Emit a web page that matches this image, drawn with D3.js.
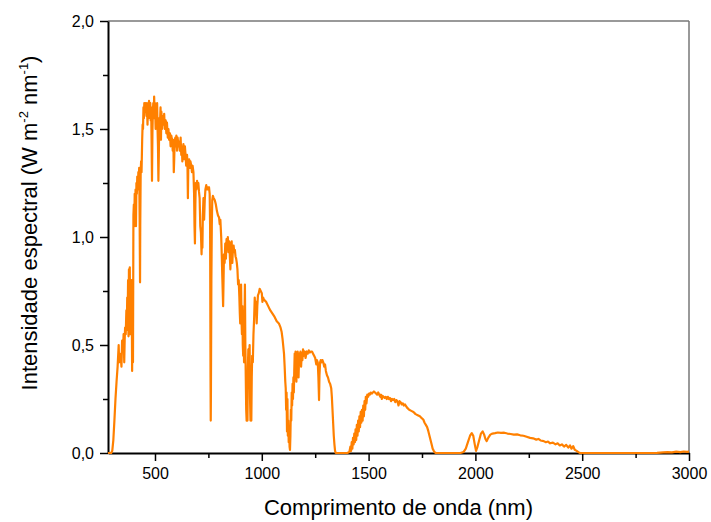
<!DOCTYPE html>
<html>
<head>
<meta charset="utf-8">
<script src="https://cdn.jsdelivr.net/npm/d3@7"></script>
<style>
  body { margin: 0; background: #fff; }
  text { font-family: Arial, "Liberation Sans", sans-serif; fill: #000; }
</style>
</head>
<body>
<div class="chart"></div>
<script>
var svgWidth = 711;
var svgHeight = 522;

var margin = { top: 21, right: 22, bottom: 69, left: 108 };

var width = svgWidth - margin.left - margin.right;
var height = svgHeight - margin.top - margin.bottom;

// spectrum (nm, W m-2 nm-1)
var wavelengths = [280, 290, 295, 300, 305, 310, 315, 320, 325, 330, 332, 335, 340, 343, 346, 350, 353, 356, 358, 360,
  363, 366, 368, 370, 372, 374, 376, 378, 380, 382, 384, 386, 388, 390, 392, 393, 395, 397, 399, 401,
  403, 405, 407, 409, 411, 413, 415, 417, 420, 422, 424, 426, 428, 430, 431, 433, 435, 437, 440, 442,
  444, 446, 448, 450, 452, 455, 458, 460, 462, 465, 467, 470, 472, 475, 478, 480, 482, 484, 486, 488,
  490, 492, 494, 496, 498, 500, 503, 505, 508, 510, 512, 514, 516, 518, 520, 523, 526, 528, 530, 533,
  536, 540, 543, 546, 550, 553, 556, 560, 563, 566, 570, 573, 576, 580, 583, 586, 588, 590, 592, 595,
  598, 600, 603, 606, 610, 613, 616, 620, 623, 626, 628, 630, 633, 636, 640, 643, 646, 650, 652, 654,
  656, 660, 663, 666, 670, 673, 676, 680, 683, 685, 687, 689, 691, 694, 697, 700, 703, 706, 709, 712,
  715, 718, 720, 722, 724, 727, 730, 733, 736, 740, 743, 746, 750, 753, 756, 758, 760, 761, 762, 764,
  766, 768, 771, 775, 780, 785, 790, 795, 800, 803, 806, 810, 813, 815, 817, 819, 821, 823, 826, 829,
  832, 835, 838, 841, 844, 847, 850, 853, 856, 859, 862, 865, 868, 871, 874, 877, 880, 883, 886, 889,
  892, 895, 897, 899, 901, 903, 905, 907, 909, 911, 913, 915, 917, 919, 921, 923, 925, 927, 929, 931,
  933, 935, 937, 939, 941, 943, 945, 947, 949, 951, 953, 955, 958, 961, 964, 967, 970, 973, 976, 979,
  982, 986, 990, 995, 1000, 1003, 1006, 1010, 1020, 1030, 1040, 1050, 1060, 1070, 1080, 1088, 1093, 1097, 1100, 1104,
  1107, 1110, 1112, 1114, 1116, 1118, 1120, 1122, 1124, 1126, 1128, 1130, 1132, 1134, 1136, 1138, 1140, 1142, 1144, 1146,
  1148, 1150, 1152, 1154, 1156, 1158, 1160, 1162, 1164, 1166, 1168, 1170, 1172, 1175, 1178, 1181, 1184, 1187, 1190, 1193,
  1196, 1200, 1205, 1210, 1215, 1220, 1225, 1230, 1235, 1240, 1245, 1250, 1255, 1258, 1262, 1265, 1268, 1270, 1273, 1276,
  1280, 1284, 1288, 1292, 1296, 1300, 1305, 1310, 1315, 1320, 1325, 1328, 1331, 1334, 1337, 1340, 1343, 1346, 1360, 1380,
  1400, 1410, 1415, 1418, 1421, 1424, 1427, 1430, 1433, 1436, 1439, 1442, 1445, 1448, 1451, 1454, 1457, 1460, 1463, 1466,
  1469, 1472, 1475, 1478, 1481, 1484, 1487, 1490, 1494, 1498, 1502, 1506, 1510, 1515, 1520, 1525, 1530, 1535, 1540, 1545,
  1550, 1555, 1558, 1562, 1565, 1570, 1575, 1580, 1585, 1590, 1595, 1600, 1605, 1610, 1615, 1620, 1625, 1630, 1635, 1640,
  1645, 1650, 1655, 1660, 1665, 1670, 1680, 1690, 1700, 1710, 1720, 1730, 1740, 1750, 1756, 1762, 1768, 1774, 1780, 1785,
  1790, 1795, 1800, 1805, 1810, 1815, 1900, 1930, 1945, 1955, 1965, 1975, 1983, 1990, 1997, 2003, 2010, 2018, 2026, 2034,
  2041, 2047, 2053, 2060, 2070, 2080, 2092, 2105, 2120, 2135, 2150, 2165, 2180, 2195, 2210, 2225, 2240, 2256, 2270, 2285,
  2295, 2305, 2320, 2330, 2340, 2350, 2363, 2375, 2385, 2395, 2405, 2415, 2425, 2435, 2443, 2450, 2458, 2465, 2474, 2482,
  2490, 2600, 2700, 2800, 2850, 2880, 2900, 2920, 2940, 2960, 2975, 2990, 3000];

var intensities = [0, 0, 0, 0.01, 0.06, 0.15, 0.25, 0.33, 0.40, 0.50, 0.42, 0.46, 0.44, 0.40, 0.52, 0.47, 0.55, 0.42, 0.52, 0.58,
  0.55, 0.66, 0.57, 0.72, 0.62, 0.80, 0.54, 0.85, 0.70, 0.86, 0.55, 0.70, 0.60, 0.80, 0.55, 0.38, 0.75, 0.42, 1.10, 1.15,
  1.05, 1.20, 1.12, 1.22, 1.05, 1.25, 1.20, 1.28, 1.22, 1.30, 1.27, 1.32, 1.10, 0.79, 1.05, 1.30, 1.35, 1.30, 1.45, 1.52,
  1.50, 1.60, 1.55, 1.62, 1.58, 1.62, 1.60, 1.56, 1.62, 1.52, 1.60, 1.55, 1.63, 1.58, 1.62, 1.54, 1.60, 1.45, 1.26, 1.48,
  1.58, 1.62, 1.55, 1.65, 1.58, 1.62, 1.50, 1.60, 1.55, 1.62, 1.50, 1.42, 1.26, 1.38, 1.55, 1.52, 1.60, 1.45, 1.58, 1.50,
  1.56, 1.52, 1.57, 1.50, 1.54, 1.48, 1.53, 1.46, 1.50, 1.45, 1.48, 1.42, 1.47, 1.45, 1.40, 1.45, 1.30, 1.36, 1.44, 1.46,
  1.42, 1.47, 1.40, 1.46, 1.42, 1.44, 1.40, 1.46, 1.38, 1.42, 1.35, 1.40, 1.43, 1.36, 1.42, 1.38, 1.33, 1.38, 1.34, 1.18,
  1.33, 1.36, 1.32, 1.35, 1.33, 1.30, 1.33, 1.30, 1.20, 1.05, 0.97, 1.15, 1.25, 1.22, 1.26, 1.24, 1.25, 1.21, 1.18, 1.05,
  1.02, 0.92, 1.00, 0.95, 1.10, 1.18, 1.08, 1.17, 1.22, 1.24, 1.22, 1.23, 1.22, 1.23, 1.20, 1.05, 0.35, 0.15, 0.30, 0.80,
  1.05, 1.17, 1.19, 1.18, 1.17, 1.15, 1.12, 1.10, 1.09, 1.06, 1.08, 1.00, 0.90, 0.82, 0.75, 0.68, 0.80, 0.92, 0.88, 0.97,
  0.90, 0.99, 0.95, 1.00, 0.93, 0.98, 0.92, 0.85, 0.97, 0.98, 0.88, 0.95, 0.96, 0.93, 0.94, 0.91, 0.90, 0.88, 0.85, 0.78,
  0.80, 0.72, 0.65, 0.60, 0.70, 0.78, 0.62, 0.55, 0.68, 0.50, 0.45, 0.55, 0.42, 0.60, 0.78, 0.50, 0.35, 0.20, 0.15, 0.35,
  0.15, 0.40, 0.48, 0.30, 0.45, 0.50, 0.25, 0.15, 0.38, 0.15, 0.35, 0.45, 0.42, 0.55, 0.62, 0.72, 0.66, 0.70, 0.60, 0.68,
  0.73, 0.74, 0.76, 0.75, 0.74, 0.70, 0.72, 0.71, 0.70, 0.68, 0.66, 0.645, 0.63, 0.61, 0.60, 0.58, 0.56, 0.53, 0.50, 0.46,
  0.40, 0.33, 0.30, 0.20, 0.28, 0.10, 0.25, 0.08, 0.15, 0.05, 0.12, 0.03, 0.014, 0.08, 0.20, 0.15, 0.28, 0.22, 0.32, 0.25,
  0.35, 0.28, 0.38, 0.46, 0.40, 0.47, 0.38, 0.33, 0.45, 0.36, 0.47, 0.40, 0.35, 0.46, 0.42, 0.47, 0.40, 0.46, 0.43, 0.48,
  0.45, 0.47, 0.44, 0.47, 0.46, 0.475, 0.465, 0.47, 0.47, 0.46, 0.45, 0.44, 0.41, 0.43, 0.42, 0.35, 0.245, 0.36, 0.42, 0.43,
  0.42, 0.43, 0.42, 0.40, 0.41, 0.38, 0.36, 0.35, 0.33, 0.32, 0.30, 0.26, 0.20, 0.14, 0.08, 0.04, 0.01, 0, 0, 0,
  0, 0.005, 0.03, 0.01, 0.05, 0.02, 0.07, 0.04, 0.09, 0.05, 0.11, 0.06, 0.13, 0.08, 0.15, 0.10, 0.17, 0.12, 0.19, 0.14,
  0.20, 0.15, 0.22, 0.17, 0.24, 0.20, 0.26, 0.23, 0.27, 0.26, 0.275, 0.27, 0.28, 0.275, 0.28, 0.285, 0.28, 0.275, 0.27, 0.28,
  0.27, 0.26, 0.27, 0.25, 0.265, 0.26, 0.255, 0.26, 0.25, 0.26, 0.25, 0.255, 0.24, 0.25, 0.245, 0.25, 0.235, 0.245, 0.24, 0.22,
  0.24, 0.235, 0.225, 0.23, 0.22, 0.225, 0.21, 0.20, 0.195, 0.19, 0.18, 0.175, 0.17, 0.16, 0.155, 0.14, 0.13, 0.12, 0.10, 0.08,
  0.06, 0.04, 0.02, 0.01, 0.003, 0, 0, 0, 0.005, 0.02, 0.05, 0.08, 0.092, 0.08, 0.04, 0.01, 0.03, 0.06, 0.09, 0.10,
  0.085, 0.065, 0.055, 0.07, 0.085, 0.09, 0.092, 0.095, 0.093, 0.094, 0.09, 0.088, 0.085, 0.086, 0.082, 0.08, 0.075, 0.07, 0.068, 0.062,
  0.065, 0.058, 0.055, 0.05, 0.053, 0.045, 0.048, 0.04, 0.045, 0.035, 0.04, 0.03, 0.038, 0.025, 0.035, 0.02, 0.032, 0.015, 0.01, 0.004,
  0, 0, 0, 0, 0.001, 0.003, 0.004, 0.003, 0.006, 0.004, 0.007, 0.005, 0.006];

var xTicks = [500, 1000, 1500, 2000, 2500, 3000];
var yTicks = [0, 0.5, 1.0, 1.5, 2.0];

var spectrum = wavelengths.map(function(w, i) {
  return { nm: w, val: intensities[i] };
});

var svg = d3.select(".chart")
  .append("svg")
    .attr("width", svgWidth)
    .attr("height", svgHeight)
  .append("g")
    .attr("transform", "translate(" + margin.left + "," + margin.top + ")");

var xLinearScale = d3.scaleLinear().domain([280, 3000]).range([0, width]);
var yLinearScale = d3.scaleLinear().domain([0, 2]).range([height, 0]);

var comma = function(d) { return d3.format(".1f")(d).replace(".", ","); };

// frame: gray top/right
svg.append("line")
  .attr("x1", 0).attr("x2", width).attr("y1", 0).attr("y2", 0)
  .attr("stroke", "#777").attr("stroke-width", 1.5);
svg.append("line")
  .attr("x1", width).attr("x2", width).attr("y1", 0).attr("y2", height)
  .attr("stroke", "#777").attr("stroke-width", 1.5);

// minor ticks
var xMinor = svg.append("g")
  .attr("transform", "translate(0," + height + ")")
  .call(d3.axisBottom(xLinearScale).tickValues([750, 1250, 1750, 2250, 2750]).tickSize(5).tickFormat(""));
var yMinor = svg.append("g")
  .call(d3.axisLeft(yLinearScale).tickValues([0.25, 0.75, 1.25, 1.75]).tickSize(5).tickFormat(""));
[xMinor, yMinor].forEach(function(g) {
  g.select(".domain").remove();
  g.selectAll("line").attr("stroke", "#000").attr("stroke-width", 1.5);
});

var bottomAxis = d3.axisBottom(xLinearScale).tickValues(xTicks).tickSize(8).tickPadding(7).tickSizeOuter(0)
  .tickFormat(d3.format("d"));
var leftAxis = d3.axisLeft(yLinearScale).tickValues(yTicks).tickSize(8).tickPadding(6).tickSizeOuter(0).tickFormat(comma);

var xAxisG = svg.append("g")
  .attr("transform", "translate(0," + height + ")")
  .call(bottomAxis);
var yAxisG = svg.append("g")
  .call(leftAxis);

[xAxisG, yAxisG].forEach(function(g) {
  g.select(".domain").attr("stroke", "#000").attr("stroke-width", 2);
  g.selectAll(".tick line").attr("stroke", "#000").attr("stroke-width", 1.5);
  g.selectAll(".tick text").attr("font-size", 16).attr("font-family", "Arial, 'Liberation Sans', sans-serif");
});

// spectrum line
var line = d3.line()
  .x(function(d) { return xLinearScale(d.nm); })
  .y(function(d) { return yLinearScale(d.val); });

svg.append("path")
  .datum(spectrum)
  .attr("fill", "none")
  .attr("stroke", "#ff8000")
  .attr("stroke-width", 2.2)
  .attr("stroke-linejoin", "round")
  .attr("d", line);

// axis titles
svg.append("text")
  .attr("x", width / 2)
  .attr("y", height + 62)
  .attr("text-anchor", "middle")
  .attr("font-size", 22)
  .text("Comprimento de onda (nm)");

var yTitle = svg.append("text")
  .attr("transform", "translate(" + (37 - margin.left) + "," + (223 - margin.top) + ") rotate(-90)")
  .attr("text-anchor", "middle")
  .attr("font-size", 22);
yTitle.append("tspan").text("Intensidade espectral (W m");
yTitle.append("tspan").attr("font-size", 13).attr("dy", -9).text("-2");
yTitle.append("tspan").attr("dy", 9).text(" nm");
yTitle.append("tspan").attr("font-size", 13).attr("dy", -9).text("-1");
yTitle.append("tspan").attr("dy", 9).text(")");
</script>
</body>
</html>
